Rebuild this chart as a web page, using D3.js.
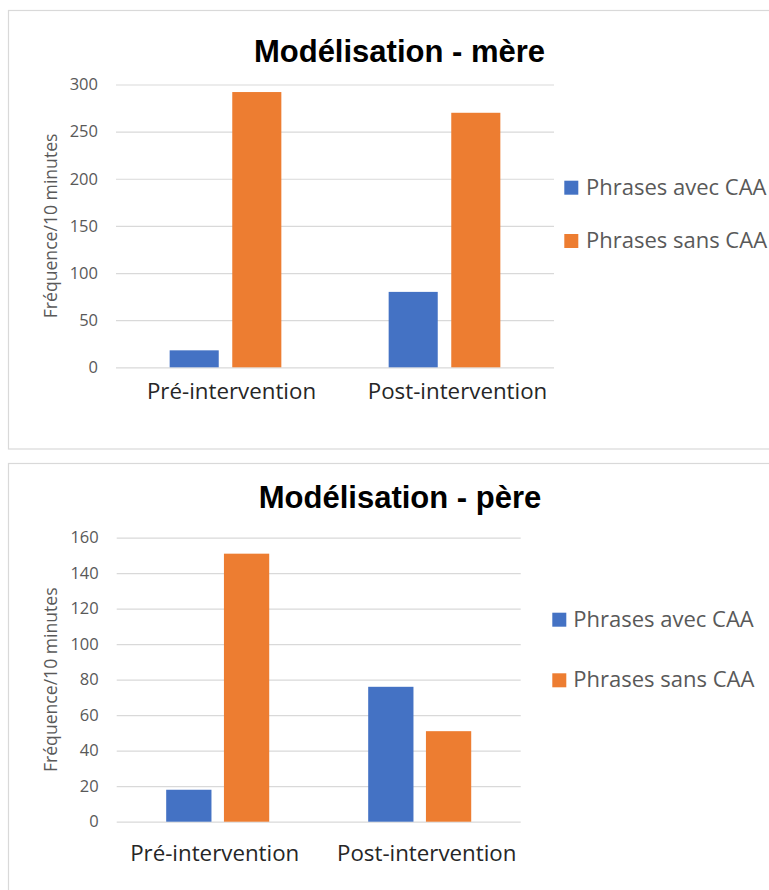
<!DOCTYPE html>
<html>
<head>
<meta charset="utf-8">
<script src="https://cdn.jsdelivr.net/npm/d3@7"></script>
<style>
  html, body { margin: 0; padding: 0; background: #ffffff; }
  svg { display: block; }
</style>
</head>
<body>
<svg id="chart" width="769" height="890"></svg>
<script>
// ---- data ----
const categories = ["Pré-intervention", "Post-intervention"];
const seriesNames = ["Phrases avec CAA", "Phrases sans CAA"];
const mereAvec = [18, 80];
const mereSans = [292, 270];
const pereAvec = [18, 76];
const pereSans = [151, 51];
const mereTicks = [0, 50, 100, 150, 200, 250, 300];
const pereTicks = [0, 20, 40, 60, 80, 100, 120, 140, 160];
const mereTitle = "Modélisation - mère";
const pereTitle = "Modélisation - père";
const yAxisTitle = "Fréquence/10 minutes";

const colors = ["#4472C4", "#ED7D31"];

const svg = d3.select("#chart");

function drawChart(cfg) {
  const g = svg.append("g");

  // frame
  g.append("rect")
    .attr("x", cfg.box.x).attr("y", cfg.box.y)
    .attr("width", cfg.box.w).attr("height", cfg.box.h)
    .attr("fill", "#ffffff").attr("stroke", "#d9d9d9").attr("stroke-width", 1.2);

  // title
  g.append("text")
    .attr("x", cfg.titleX).attr("y", cfg.titleY)
    .attr("text-anchor", "middle")
    .style("font-family", "'Liberation Sans', Arial, sans-serif")
    .style("font-weight", "bold")
    .style("font-size", "31px")
    .attr("fill", "#000000")
    .text(cfg.title);

  const y = d3.scaleLinear().domain(cfg.domain).range([cfg.y0, cfg.y1]);
  const x0 = d3.scaleBand().domain(categories).range([cfg.x0, cfg.x1])
    .paddingInner(0.49).paddingOuter(0.245);
  const x1 = d3.scaleBand().domain(seriesNames).range([0, x0.bandwidth()])
    .paddingInner(0.216).paddingOuter(0);

  // y axis with gridlines
  const yAxis = d3.axisLeft(y).tickValues(cfg.ticks)
    .tickSize(-(cfg.x1 - cfg.x0)).tickPadding(18);
  const ya = g.append("g").attr("transform", `translate(${cfg.x0},0)`).call(yAxis);
  ya.select(".domain").remove();
  ya.selectAll(".tick line").attr("stroke", "#d9d9d9").attr("stroke-width", 1.2);
  ya.selectAll(".tick text")
    .style("font-family", "'Open Sans', sans-serif")
    .style("font-size", "16.5px")
    .attr("fill", "#595959");

  // bars
  const rows = categories.map((c, i) => ({ cat: c, vals: [cfg.avec[i], cfg.sans[i]] }));
  const grp = g.append("g").selectAll("g").data(rows).join("g")
    .attr("transform", d => `translate(${x0(d.cat)},0)`);
  grp.selectAll("rect")
    .data(d => d.vals.map((v, k) => ({ s: seriesNames[k], v: v, k: k })))
    .join("rect")
    .attr("x", d => x1(d.s))
    .attr("width", x1.bandwidth())
    .attr("y", d => y(d.v))
    .attr("height", d => y(0) - y(d.v))
    .attr("fill", d => colors[d.k]);

  // x axis labels
  const xAxis = d3.axisBottom(x0).tickSize(0).tickPadding(cfg.xPad);
  const xa = g.append("g").attr("transform", `translate(0,${cfg.y0})`).call(xAxis);
  xa.select(".domain").remove();
  xa.selectAll(".tick text")
    .style("font-family", "'Open Sans', sans-serif")
    .style("font-size", "22.3px")
    .attr("fill", "#262626")
    .attr("dx", (d, i) => cfg.labelDx[i]);

  // y axis title
  g.append("text")
    .attr("transform", `translate(${cfg.yTitleX},${(cfg.y0 + cfg.y1) / 2}) rotate(-90)`)
    .attr("text-anchor", "middle")
    .style("font-family", "'Open Sans', sans-serif")
    .style("font-size", "17.6px")
    .attr("fill", "#595959")
    .text(yAxisTitle);

  // legend
  const lg = g.append("g").selectAll("g").data(seriesNames).join("g")
    .attr("transform", (d, i) => `translate(${cfg.legX},${cfg.legY + i * cfg.legStep})`);
  lg.append("rect").attr("x", 0).attr("y", 0).attr("width", 14).attr("height", 14)
    .attr("fill", (d, i) => colors[i]);
  lg.append("text").attr("x", cfg.legTextDx).attr("y", 14)
    .style("font-family", "'Open Sans', sans-serif")
    .style("font-size", "22px")
    .attr("fill", "#595959")
    .text(d => d);
}

drawChart({
  box: { x: 8.5, y: 10.5, w: 800, h: 438.5 },
  title: mereTitle, titleX: 399.5, titleY: 61.7,
  domain: [0, 300], ticks: mereTicks,
  y0: 367.3, y1: 84.5, x0: 116, x1: 554,
  avec: mereAvec, sans: mereSans,
  xPad: 15.5, labelDx: [6, 13],
  yTitleX: 57,
  legX: 564.3, legY: 180.7, legStep: 53.3, legTextDx: 21.7
});

drawChart({
  box: { x: 8.5, y: 463.5, w: 800, h: 450 },
  title: pereTitle, titleX: 400, titleY: 508,
  domain: [0, 160], ticks: pereTicks,
  y0: 821.7, y1: 537.7, x0: 116.7, x1: 520.7,
  avec: pereAvec, sans: pereSans,
  xPad: 23.3, labelDx: [-3, 7],
  yTitleX: 57,
  legX: 552.3, legY: 612.7, legStep: 60.6, legTextDx: 21
});
</script>
</body>
</html>
